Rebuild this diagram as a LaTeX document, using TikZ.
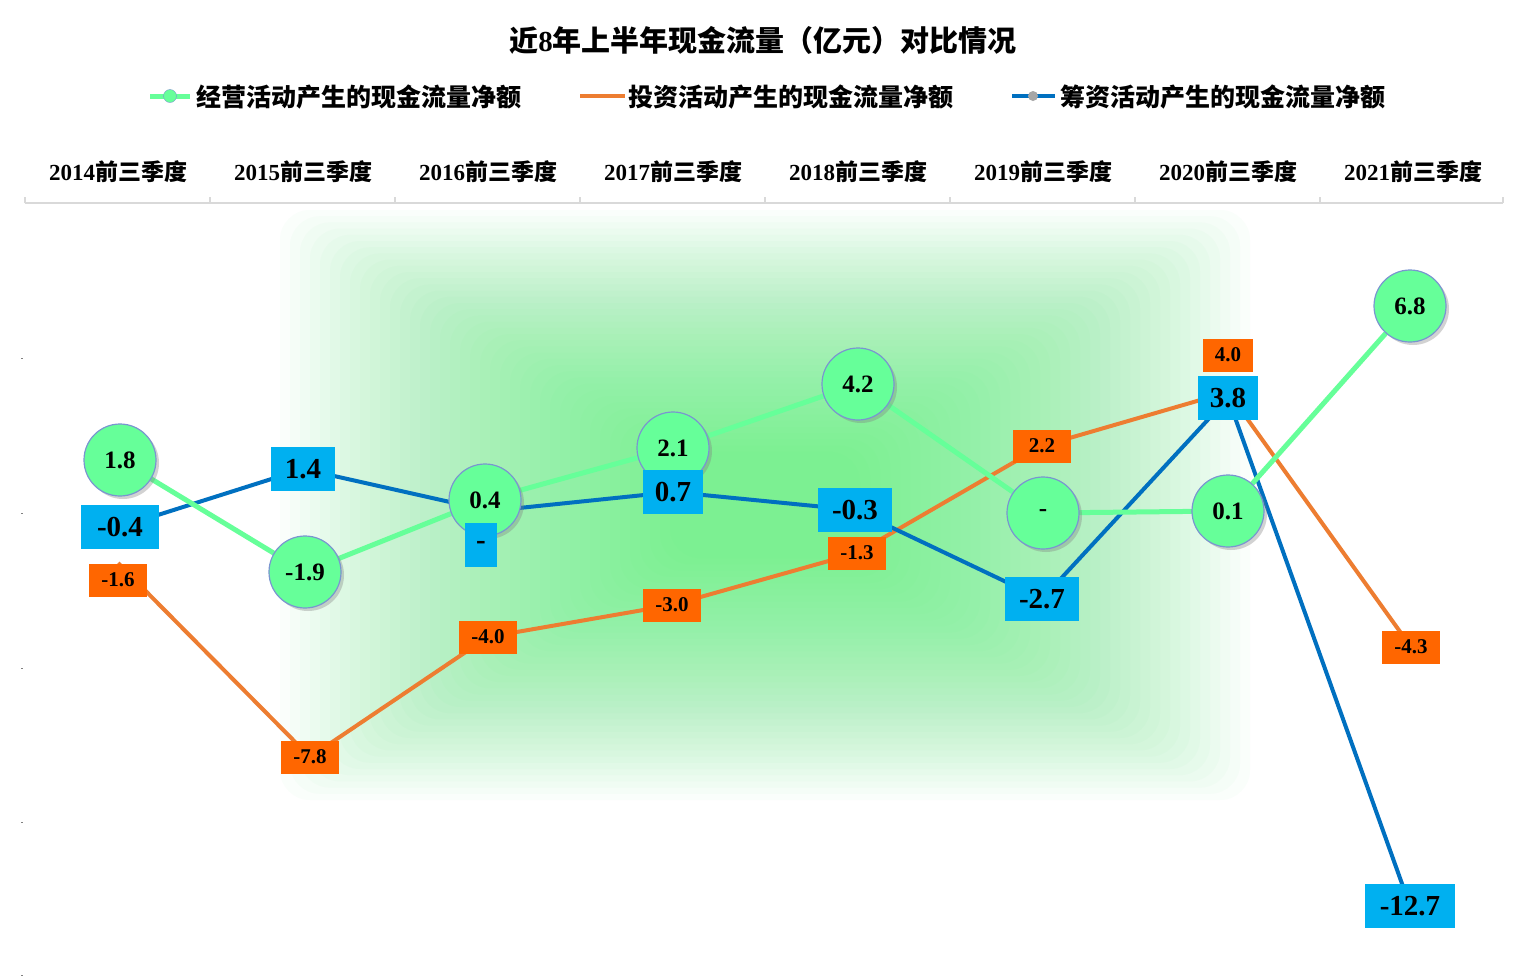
\documentclass[tikz,border=0pt]{standalone}
\usepackage{fontspec}
\setmainfont{Liberation Serif}
\newfontfamily\cjk{Noto Sans CJK SC}
\usetikzlibrary{shadows}
\definecolor{gfill}{HTML}{66FF99}
\definecolor{gline}{HTML}{66FF99}
\definecolor{glow}{HTML}{4CF070}
\definecolor{gedge}{HTML}{7A95D0}
\definecolor{oline}{HTML}{ED7D31}
\definecolor{ofill}{HTML}{FF6600}
\definecolor{bline}{HTML}{0070C0}
\definecolor{bfill}{HTML}{00B0F0}
\definecolor{axc}{HTML}{D9D9D9}
\tikzset{
 fs/.style={font=\fontsize{#1}{#1}\selectfont\bfseries},
 gc/.style={circle,fill=gfill,draw=gedge,line width=1.2pt,minimum size=72pt,inner sep=0pt,fs=25,drop shadow={shadow xshift=3pt,shadow yshift=-3pt,opacity=0.35}},
 ob/.style={fill=ofill,minimum width=58pt,minimum height=33pt,inner sep=2pt,fs=21},
 bb/.style={fill=bfill,minimum width=60pt,minimum height=44pt,inner sep=3pt,fs=29},
 gl/.style={gline,line width=5pt},
 ol/.style={oline,line width=4pt},
 bl/.style={bline,line width=4pt},
 cat/.style={fs=23},
}
\begin{document}
\begin{tikzpicture}[x=1pt,y=-1pt]
\useasboundingbox[fill=white] (0,0) rectangle (1527,978);
\foreach \i in {0,...,39}
  \fill[glow,opacity=0.028,rounded corners=30pt] (280+\i*10,210+\i*6.2) rectangle (1250-\i*10,800-\i*6.2);
% title & legend
\node[fs=29] (title) at (763,40) {{\cjk 近}8{\cjk 年上半年现金流量（亿元）对比情况}};
\draw[gl] (150,96) -- (190,96); \node[circle,fill=gfill,draw=gedge,minimum size=13pt,inner sep=0pt] (lg1) at (170,96) {};
\node[fs=25,anchor=west] (lt1) at (193,97) {\cjk 经营活动产生的现金流量净额};
\draw[ol] (580,96) -- (625,96);
\node[fs=25,anchor=west] (lt2) at (625,97) {\cjk 投资活动产生的现金流量净额};
\draw[bl] (1012,96) -- (1055,96); \node[circle,fill=gray!70,minimum size=10pt,inner sep=0pt] (lg3) at (1033,96) {};
\node[fs=25,anchor=west] (lt3) at (1057,97) {\cjk 筹资活动产生的现金流量净额};
% axis
\draw[axc,line width=1.5pt] (25,203) -- (1503,203);
\foreach \x in {25,210,395,580,765,950,1135,1320,1503} \draw[axc,line width=1.5pt] (\x,203) -- (\x,197);
\foreach \y in {358,513,668,822,975} \draw[gray] (21,\y) -- (23,\y);
\foreach \yr [count=\i from 0] in {2014,2015,2016,2017,2018,2019,2020,2021}
  \node[cat] (c\i) at (118+\i*185,172) {\yr{\cjk 前三季度}};
% coordinates
\coordinate (o1) at (118,563); \coordinate (o2) at (310,757); \coordinate (o3) at (488,637);
\coordinate (o4) at (672,605); \coordinate (o5) at (857,553); \coordinate (o6) at (1042,446);
\coordinate (o7) at (1228,392); \coordinate (o8) at (1411,647);
\coordinate (b1) at (120,527); \coordinate (b2) at (303,469); \coordinate (b3) at (490,511);
\coordinate (b4) at (673,492); \coordinate (b5) at (855,510); \coordinate (b6) at (1042,599);
\coordinate (b7) at (1228,398); \coordinate (b8) at (1410,906);
\coordinate (g1) at (120,460); \coordinate (g2) at (305,572); \coordinate (g3) at (485,500);
\coordinate (g4) at (673,448); \coordinate (g5) at (858,384); \coordinate (g6) at (1043,513);
\coordinate (g7) at (1228,511); \coordinate (g8) at (1410,306);
% lines
\draw[ol,line join=round] (o1)--(o2)--(o3)--(o4)--(o5)--(o6)--(o7)--(o8);
\draw[bl,line join=round] (b1)--(b2)--(b3)--(b4)--(b5)--(b6)--(b7)--(b8);
\draw[gl,line join=round] (g1)--(g2)--(g3)--(g4)--(g5)--(g6)--(g7)--(g8);
% green circles
\node[gc] (G1) at (g1) {1.8}; \node[gc] (G2) at (g2) {-1.9}; \node[gc] (G3) at (g3) {0.4};
\node[gc] (G4) at (g4) {2.1}; \node[gc] (G5) at (g5) {4.2}; \node[gc] (G6) at (g6) {-};
\node[gc] (G7) at (g7) {0.1}; \node[gc] (G8) at (g8) {6.8};
% orange labels
\node[ob] (O1) at (118,580) {-1.6}; \node[ob] (O2) at (310,757) {-7.8}; \node[ob] (O3) at (488,637) {-4.0};
\node[ob] (O4) at (672,605) {-3.0}; \node[ob] (O5) at (857,553) {-1.3}; \node[ob] (O6) at (1042,446) {2.2};
\node[ob,minimum width=50pt] (O7) at (1228,355) {4.0}; \node[ob] (O8) at (1411,647) {-4.3};
% blue labels
\node[bb,minimum width=78pt] (B1) at (120,527) {-0.4}; \node[bb,minimum width=64pt] (B2) at (303,469) {1.4};
\node[bb,minimum width=32pt] (B3) at (481,545) {-}; \node[bb] (B4) at (673,492) {0.7};
\node[bb,minimum width=74pt] (B5) at (855,510) {-0.3}; \node[bb,minimum width=74pt] (B6) at (1042,599) {-2.7};
\node[bb] (B7) at (1228,398) {3.8}; \node[bb,minimum width=90pt] (B8) at (1410,906) {-12.7};
\end{tikzpicture}
\end{document}
